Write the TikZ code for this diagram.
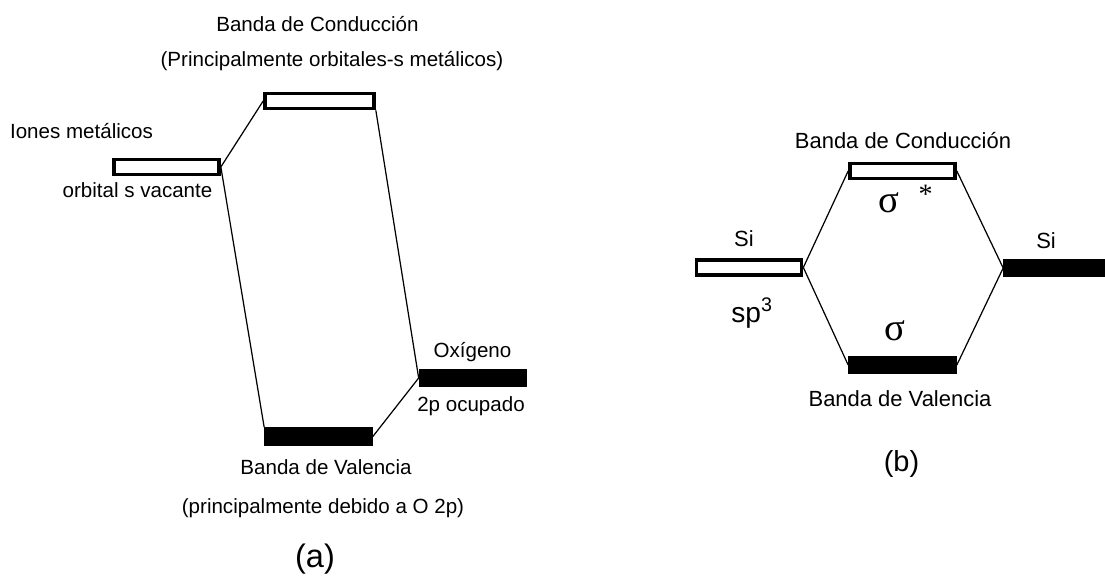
\documentclass[tikz,border=0pt]{standalone}
\usepackage{fontspec}
\setmainfont{Liberation Sans}
\newfontfamily\griega{Liberation Serif}
\begin{document}
\begin{tikzpicture}[x=0.02cm,y=-0.02cm,
		vacio/.style={draw,line width=2.1pt,fill=white,inner sep=0pt,minimum width=2.1cm,minimum height=0.3cm},
		lleno/.style={vacio,fill=black},
		txt/.style={anchor=base,inner sep=0pt,font=\fontsize{11.7}{14}\selectfont},
		txtb/.style={anchor=base,inner sep=0pt,font=\fontsize{12.5}{15}\selectfont},
		enlace/.style={line width=0.7pt}]
	\useasboundingbox (0,0) rectangle (1105,580);
	% (a) oxido metalico
	\node(cbA)			[vacio,minimum width=2.18cm] at (319.5,101)	{};
	\node(metal)		[vacio] at (166.5,167)		{};
	\node(vbA)			[lleno] at (318.5,436.5)		{};
	\node(oxA)			[lleno] at (473,378)			{};
	\node(cbAtxt)		[txt] at (317.5,31.5)		{Banda de Conducción};
	\node(cbAsub)		[txt] at (332,66.5)			{(Principalmente orbitales-s metálicos)};
	\node(metaltxt)	[txt] at (81.5,139)			{Iones metálicos};
	\node(metalsub)	[txt] at (137.5,198)			{orbital s vacante};
	\node(oxAtxt)		[txt] at (472.5,358)			{Oxígeno};
	\node(oxAsub)		[txt] at (471,412)			{2p ocupado};
	\node(vbAtxt)		[txt] at (326,475)			{Banda de Valencia};
	\node(vbAsub)		[txt] at (323,513)			{(principalmente debido a O 2p)};
	\node(capA)		[txt,font=\fontsize{18.5}{20}\selectfont] at (315,567) {(a)};
	\draw[enlace](metal.east)		-- (cbA.west);
	\draw[enlace](metal.east)		-- (vbA.north west);
	\draw[enlace](cbA.south east)	-- (oxA.west);
	\draw[enlace](vbA.east)		-- (oxA.west);
	% (b) silicio
	\node(siL)			[vacio] at (749,267.5)		{};
	\node(siR)			[lleno,minimum width=1.96cm] at (1054,268) {};
	\node(cbB)			[vacio] at (902.5,171)		{};
	\node(vbB)			[lleno] at (902.5,365)		{};
	\node(cbBtxt)		[txtb] at (903,149)			{Banda de Conducción};
	\node(sigmaAst)	[anchor=base west,inner sep=0pt,font=\griega\fontsize{22}{24}\selectfont] at (878,212.5) {σ\hspace{11pt}\raisebox{5pt}{\fontsize{16}{18}\selectfont *}};
	\node(sigma)		[anchor=base,inner sep=0pt,font=\griega\fontsize{22}{24}\selectfont] at (895,340.5) {σ};
	\node(siLtxt)		[txt,font=\fontsize{12.5}{14}\selectfont] at (744,247) {Si};
	\node(siRtxt)		[txt,font=\fontsize{12.5}{14}\selectfont] at (1046,249) {Si};
	\node(sp)			[anchor=base west,inner sep=0pt,font=\fontsize{16}{18}\selectfont] at (731,323) {sp\textsuperscript{3}};
	\node(vbBtxt)		[txtb] at (900,407)			{Banda de Valencia};
	\node(capB)		[txt,font=\fontsize{16.5}{18}\selectfont] at (901.5,472) {(b)};
	\draw[enlace](siL.east)		-- (cbB.west);
	\draw[enlace](siL.east)		-- (vbB.west);
	\draw[enlace](siR.west)		-- (cbB.east);
	\draw[enlace](siR.west)		-- (vbB.east);
\end{tikzpicture}
\end{document}
